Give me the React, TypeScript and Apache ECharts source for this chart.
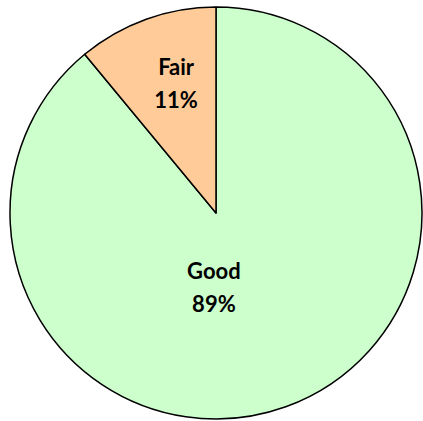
import React, { useEffect, useRef } from "react";
import * as echarts from "echarts";

const categories = ["Good", "Fair"];
const values = [89, 11];
const colors = ["#CCFFCC", "#FFCC99"];

export default function App() {
  const ref = useRef<HTMLDivElement>(null);
  useEffect(() => {
    document.body.style.margin = "0";
    const chart = echarts.init(ref.current!, undefined, { renderer: "svg" });
    const shifts: Record<string, [number, number]> = {
      Good: [-38, -26],
      Fair: [-4, -30],
    };
    chart.setOption({
      animation: false,
      backgroundColor: "#ffffff",
      series: [
        {
          type: "pie",
          center: [216, 213],
          radius: 206,
          startAngle: 90,
          clockwise: true,
          emphasis: { disabled: true },
          data: categories.map((c, i) => ({
            name: c,
            value: values[i],
            itemStyle: { color: colors[i] },
          })),
          itemStyle: { borderColor: "#000000", borderWidth: 1.5 },
          label: {
            show: true,
            position: "inside",
            formatter: "{b}\n{d}%",
            fontFamily: "Lato",
            fontWeight: "bold",
            fontSize: 22,
            lineHeight: 33,
            color: "#000000",
            align: "center",
          },
          labelLine: { show: false },
          labelLayout: (params: any) => {
            const s = shifts[categories[params.dataIndex]] || [0, 0];
            return { dx: s[0], dy: s[1] };
          },
        },
      ],
    });
    return () => chart.dispose();
  }, []);
  return (
    <div
      ref={ref}
      style={{ position: "absolute", left: 0, top: 0, width: 423, height: 421 }}
    />
  );
}
